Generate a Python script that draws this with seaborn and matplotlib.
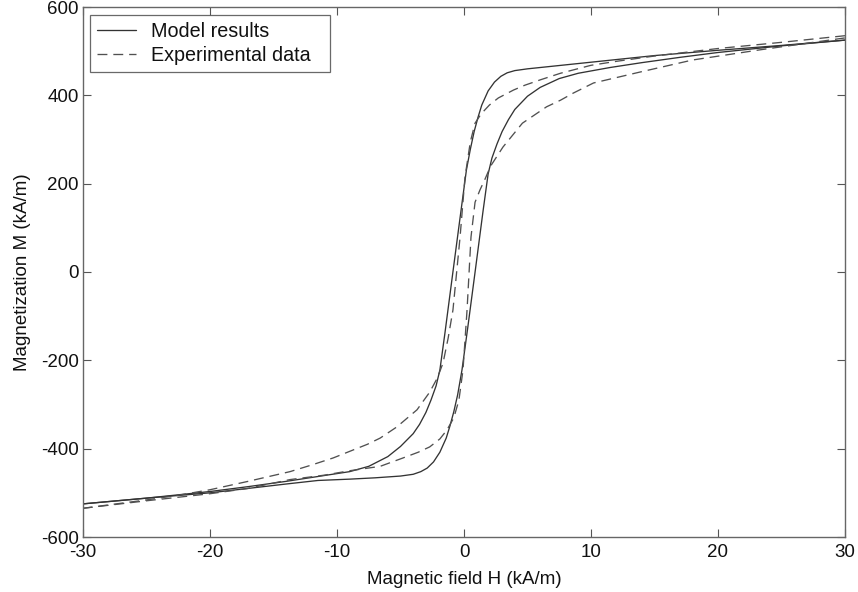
import matplotlib
matplotlib.use("Agg")
import matplotlib.pyplot as plt
import seaborn as sns
import pandas as pd

# ---- data ----
# Model results, descending branch (from +30 to -30)
model_desc_H = [30, 25, 20, 15, 12, 9, 7, 5, 4.0, 3.4, 2.9, 2.4, 1.9, 1.4, 1.1, 0.8, 0.5, 0.19,
                -0.3, -0.85, -1.2, -1.5, -1.9, -2.2, -2.6, -3.0, -3.5, -4.0, -5, -6, -7.5,
                -9, -11.5, -14, -17, -20, -25, -30]
model_desc_M = [525, 513, 502, 490, 481, 472, 466, 460, 456, 451, 443, 430, 410, 378, 350, 318, 278, 231,
                125, 5, -72, -138, -222, -258, -290, -318, -345, -366, -395, -418, -440,
                -452, -463, -474, -486, -497, -512, -525]
# Model results, ascending branch (from -30 to +30)
model_asc_H = [-30, -25, -20, -17, -14, -11.5, -9, -7, -5, -4, -3.4, -2.9, -2.4, -1.9, -1.4,
               -1.1, -0.8, -0.5, -0.16, 0.3, 0.85, 1.2, 1.5, 1.9, 2.2, 2.6, 3.0, 3.5, 4.0, 5, 6, 7.5,
               9, 11.5, 14, 17, 20, 25, 30]
model_asc_M = [-525, -512, -500, -490, -480, -472, -469, -466, -462, -458, -452, -444, -430, -408, -376,
               -348, -316, -278, -222, -125, -5, 72, 138, 222, 258, 290, 318, 345, 368, 398, 418, 438,
               450, 463, 474, 486, 497, 512, 525]
# Experimental data, descending branch
exp_desc_H = [30, 25, 20, 15, 12, 10, 7.6, 6, 4.8, 3.9, 2.7, 2.0, 1.35, 0.87, 0.5, 0.08,
              -0.31, -0.87, -1.25, -1.65, -2.1, -2.7, -3.7, -5.3, -6.6, -7.6, -10.3, -12,
              -13.7, -17, -20, -22.4, -25, -30]
exp_desc_M = [535, 520, 506, 489, 477, 468, 450, 435, 423, 412, 394, 378, 358, 337, 295, 215,
              79, -86, -150, -206, -240, -272, -312, -351, -376, -390, -421, -437,
              -452, -474, -493, -505, -516, -535]
# Experimental data, ascending branch
exp_asc_H = [-30, -25, -20, -17, -13.7, -11, -9, -6.6, -4.8, -3.6, -2.7, -1.9, -1.35, -0.8, -0.4,
             -0.08, 0.24, 0.55, 0.87, 1.26, 1.65, 2.1, 3.07, 4.6, 6.5, 7.6, 8.6, 10.2, 13.9,
             18, 23.3, 30]
exp_asc_M = [-535, -518, -502, -490, -470, -460, -450, -440, -421, -408, -396, -378, -358, -330, -290,
             -222, -86, 79, 158, 186, 210, 240, 283, 337, 374, 389, 405, 428, 453,
             480, 503, 530]

series_labels = ["Model results", "Experimental data"]
x_label = "Magnetic field H (kA/m)"
y_label = "Magnetization M (kA/m)"
x_ticks = [-30, -20, -10, 0, 10, 20, 30]
y_ticks = [-600, -400, -200, 0, 200, 400, 600]

# ---- plot ----
sns.set_style("white")
plt.rcParams["font.family"] = ["Liberation Sans", "DejaVu Sans"]
FS = 13.5

fig = plt.figure(figsize=(8.58, 5.92), dpi=100)
ax = fig.add_axes([83 / 858, 1 - 537 / 592, (845 - 83) / 858, (537 - 7) / 592])

solid_color = "#333333"
dash_color = "#505050"
dash_style = (0, (7.5, 4.5))

def branch(H, M):
    return pd.DataFrame({"H": H, "M": M})

sns.lineplot(data=branch(model_desc_H, model_desc_M), x="H", y="M", sort=False, ax=ax,
             color=solid_color, linewidth=0.95, label=series_labels[0])
sns.lineplot(data=branch(model_asc_H, model_asc_M), x="H", y="M", sort=False, ax=ax,
             color=solid_color, linewidth=0.95)
sns.lineplot(data=branch(exp_desc_H, exp_desc_M), x="H", y="M", sort=False, ax=ax,
             color=dash_color, linewidth=0.95, dashes=False, linestyle=dash_style,
             label=series_labels[1])
sns.lineplot(data=branch(exp_asc_H, exp_asc_M), x="H", y="M", sort=False, ax=ax,
             color=dash_color, linewidth=0.95, dashes=False, linestyle=dash_style)

ax.set_xlim(-30, 30)
ax.set_ylim(-600, 600)
ax.set_xticks(x_ticks)
ax.set_yticks(y_ticks)
ax.set_xticklabels([str(t) for t in x_ticks], fontsize=FS)
ax.set_yticklabels([str(t) for t in y_ticks], fontsize=FS)
ax.tick_params(direction="in", length=6, width=0.8, color="#555555",
               top=True, right=True, bottom=True, left=True, labelcolor="#111111")
ax.tick_params(axis="x", pad=5)
ax.tick_params(axis="y", pad=3)
for s in ax.spines.values():
    s.set_visible(True)
    s.set_color("#666666")
    s.set_linewidth(1.0)

ax.set_xlabel(x_label, fontsize=FS, color="#111111", labelpad=7)
ax.set_ylabel(y_label, fontsize=FS, color="#111111", labelpad=7)

leg = ax.legend(loc="upper left", bbox_to_anchor=(0.0092, 0.0, 0.315, 0.985),
                mode="expand", borderaxespad=0.0, fontsize=14.2, frameon=True,
                fancybox=False, handlelength=2.0, handletextpad=0.75,
                borderpad=0.35, labelspacing=0.25)
leg.get_frame().set_edgecolor("#444444")
leg.get_frame().set_linewidth(0.9)
for t in leg.get_texts():
    t.set_color("#111111")

fig.savefig("out.png", dpi=100)
